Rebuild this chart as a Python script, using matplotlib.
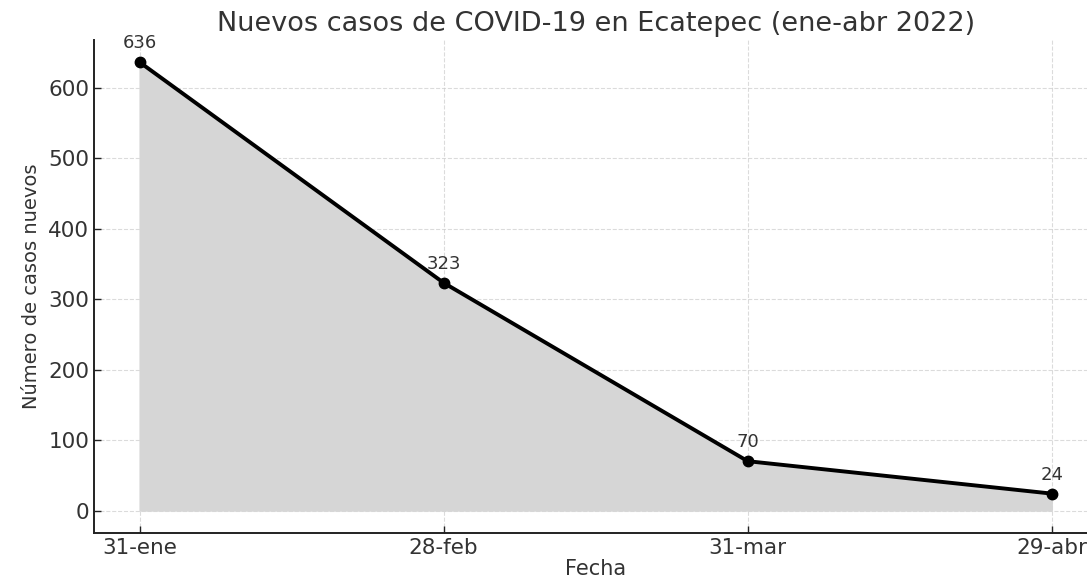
import numpy as np
import matplotlib.pyplot as plt

fechas = ['31-ene', '28-feb', '31-mar', '29-abr']
casos = [636, 323, 70, 24]

plt.rcParams['text.color'] = '#333333'
plt.rcParams['axes.labelcolor'] = '#333333'
plt.rcParams['xtick.color'] = '#333333'
plt.rcParams['ytick.color'] = '#333333'

fig = plt.figure(figsize=(10.87, 5.85), dpi=100)
ax = fig.add_axes([0.0865, 0.089, 0.923, 0.843])

x = np.arange(len(fechas))
ax.fill_between(x, casos, color='#d6d6d6', alpha=1.0, zorder=1)
ax.plot(x, casos, color='black', lw=2.8, marker='o', markersize=7.5, zorder=3)

for i in range(len(x)):
	ax.annotate(str(casos[i]), (x[i], casos[i]), textcoords='offset points',
		xytext=(0, 10), ha='center', fontsize=13)

ax.set_xticks(x)
ax.set_xticklabels(fechas)
ax.set_xlim(-0.15, 3.15)
ax.set_ylim(-31.8, 667.8)
ax.tick_params(direction='in', labelsize=15.5, length=5, width=1.0, color='#222222')
ax.grid(True, linestyle='--', color='#cccccc', lw=0.8, alpha=0.7)
ax.set_axisbelow(True)
for s in ['top', 'right']:
	ax.spines[s].set_visible(False)
for s in ['left', 'bottom']:
	ax.spines[s].set_color('#222222')
	ax.spines[s].set_linewidth(1.4)

ax.set_title('Nuevos casos de COVID-19 en Ecatepec (ene-abr 2022)', fontsize=19.5, pad=6)
ax.set_xlabel('Fecha', fontsize=15, labelpad=1)
ax.set_ylabel('Número de casos nuevos', fontsize=14, labelpad=5)

fig.savefig('out.png', dpi=100)
